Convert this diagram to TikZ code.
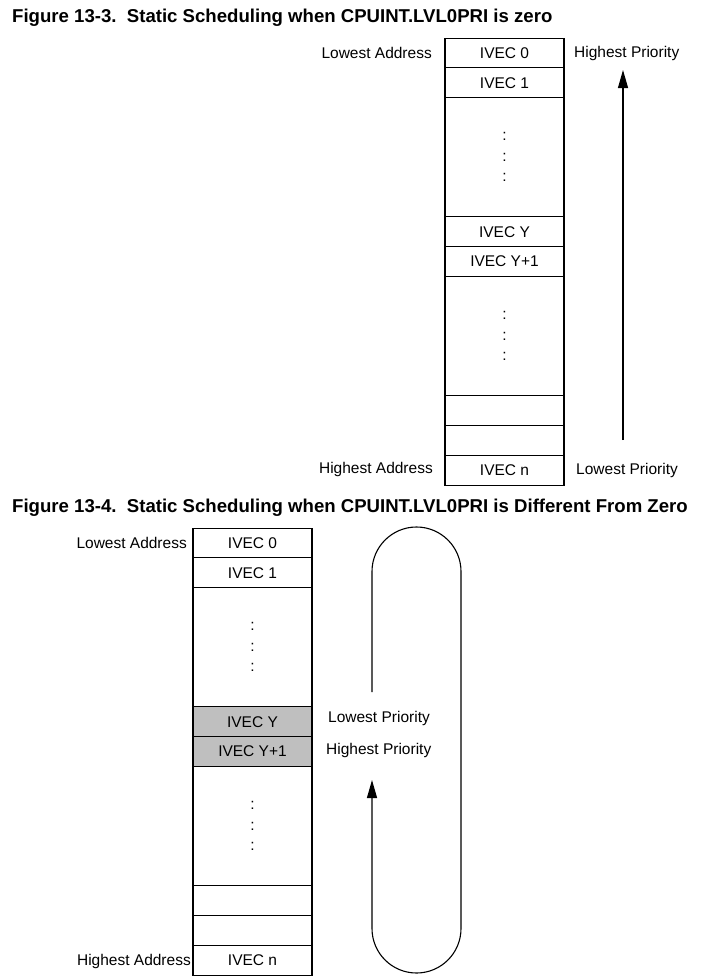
\documentclass[tikz,border=0pt]{standalone}
\usepackage{fontspec}
\setmainfont{Liberation Sans}
\usetikzlibrary{arrows.meta,positioning}
\tikzset{
  cell/.style={draw, line width=1.1pt, minimum width=119pt, minimum height=29.8pt, inner sep=0pt, outer sep=0pt, font=\fontsize{15.5}{17}\selectfont},
  gap/.style={cell, minimum height=119.2pt, align=center, font=\fontsize{15.5}{20.5}\selectfont},
  shade/.style={cell, fill=black!25},
  hdr/.style={font=\fontsize{18.6}{21}\selectfont\bfseries, anchor=west, inner sep=0pt},
  lab/.style={font=\fontsize{15.5}{17}\selectfont, inner sep=0pt},
  arr/.style={-{Triangle[length=18pt,width=10pt]}, line width=1.1pt}
}

\begin{document}
\begin{tikzpicture}[x=1pt,y=-1pt]
\useasboundingbox (0,0) rectangle (725,980);

% ---------------- Figure 13-3 ----------------
\node[hdr] (t1) at (12,18) {Figure 13-3.\ \ Static Scheduling when CPUINT.LVL0PRI is zero};

\node[cell] (a0) at (504.5,53) {IVEC 0};
\node[cell, below=0pt of a0] (a1) {IVEC 1};
\node[gap, below=0pt of a1] (ag1) {:\\:\\:};
\node[cell, below=0pt of ag1] (aY) {IVEC Y};
\node[cell, below=0pt of aY] (aY1) {IVEC Y+1};
\node[gap, below=0pt of aY1] (ag2) {:\\:\\:};
\node[cell, below=0pt of ag2] (ae1) {};
\node[cell, below=0pt of ae1] (ae2) {};
\node[cell, below=0pt of ae2] (an) {IVEC n};

\node[lab, left=13pt of a0] (alo) {Lowest Address};
\node[lab, right=10pt of a0] (ahi) {Highest Priority};
\node[lab, left=12pt of an, yshift=1pt] (ahia) {Highest Address};
\node[lab, right=12pt of an] (alop) {Lowest Priority};

\coordinate (pbot) at (623,440);
\coordinate (ptop) at (623,70);
\draw[arr] (pbot) -- (ptop);

% ---------------- Figure 13-4 ----------------
\node[hdr] (t2) at (12,508) {Figure 13-4.\ \ Static Scheduling when CPUINT.LVL0PRI is Different From Zero};

\node[cell] (b0) at (252.5,543) {IVEC 0};
\node[cell, below=0pt of b0] (b1) {IVEC 1};
\node[gap, below=0pt of b1] (bg1) {:\\:\\:};
\node[shade, below=0pt of bg1] (bY) {IVEC Y};
\node[shade, below=0pt of bY] (bY1) {IVEC Y+1};
\node[gap, below=0pt of bY1] (bg2) {:\\:\\:};
\node[cell, below=0pt of bg2] (be1) {};
\node[cell, below=0pt of be1] (be2) {};
\node[cell, below=0pt of be2] (bn) {IVEC n};

\node[lab, left=6pt of b0] (blo) {Lowest Address};
\node[lab, left=2pt of bn, yshift=-1pt] (bhia) {Highest Address};
\node[lab, right=16pt of bY, yshift=3pt] (blop) {Lowest Priority};
\node[lab, right=14pt of bY1, yshift=1pt] (bhi) {Highest Priority};

% priority loop
\coordinate (lstart) at (372,692);
\coordinate (lend) at (372,780);
\draw[arr] (lstart) -- (372,571.5) arc[start angle=180, end angle=0, radius=44.5pt]
  -- (461,928.5) arc[start angle=0, end angle=-180, radius=44.5pt] -- (lend);

\end{tikzpicture}
\end{document}
